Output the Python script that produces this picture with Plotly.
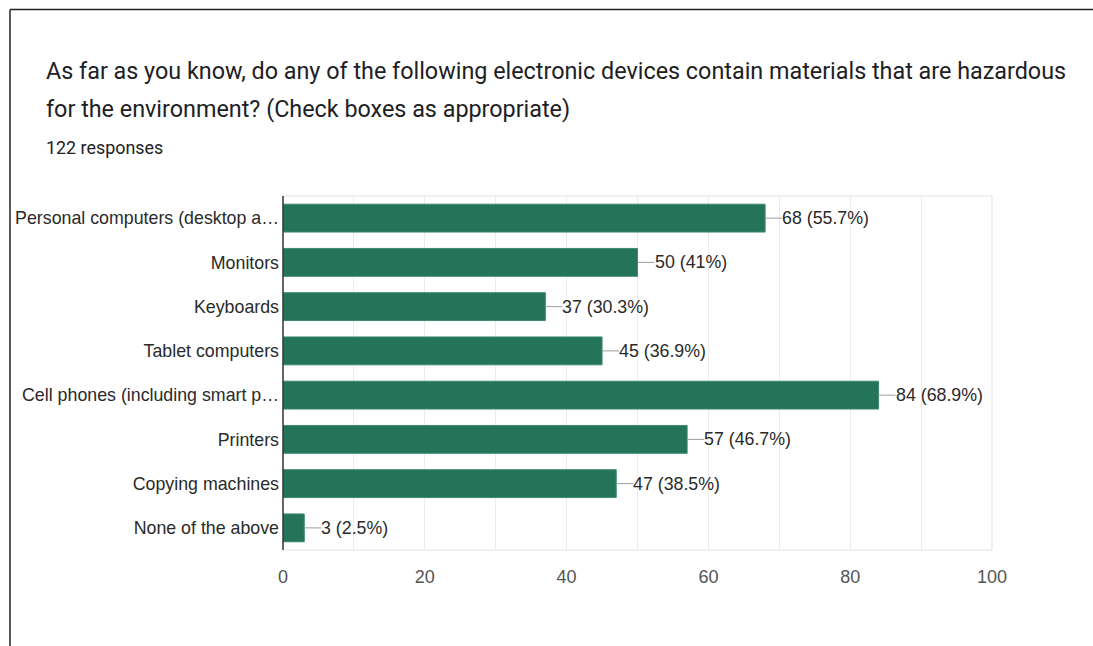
import plotly.graph_objects as go

categories = [
    "Personal computers (desktop a…",
    "Monitors",
    "Keyboards",
    "Tablet computers",
    "Cell phones (including smart p…",
    "Printers",
    "Copying machines",
    "None of the above",
]
counts = [68, 50, 37, 45, 84, 57, 47, 3]
percents = ["55.7%", "41%", "30.3%", "36.9%", "68.9%", "46.7%", "38.5%", "2.5%"]
total_responses = 122

title_lines = [
    "As far as you know, do any of the following electronic devices contain materials that are hazardous",
    "for the environment? (Check boxes as appropriate)",
]

W, H = 1093, 646
ML, MR, MT, MB = 283, 101, 196, 96
PW, PH = W - ML - MR, H - MT - MB


def px_x(px):
    return (px - ML) / PW


def px_y(py):
    return (H - MB - py) / PH


BAR = "#237459"
LABEL_FONT = dict(family="Liberation Sans, Arial, sans-serif", size=17.8, color="#2a2a2a")

fig = go.Figure(
    go.Bar(
        x=counts,
        y=categories,
        orientation="h",
        marker=dict(color=BAR, line=dict(color="#3d8a70", width=1)),
        hoverinfo="skip",
    )
)

annotations = []
for cat, n, p in zip(categories, counts, percents):
    annotations.append(
        dict(
            x=n, y=cat, xref="x", yref="y",
            text=f"{n} ({p})",
            showarrow=True, arrowhead=0, arrowwidth=1, arrowcolor="#9e9e9e",
            ax=17, ay=0, xanchor="left", yanchor="middle",
            borderpad=0, borderwidth=0,
            font=LABEL_FONT,
        )
    )

title_font = dict(family="Roboto, sans-serif", size=23.35, color="#202124")
annotations.append(dict(x=px_x(44), y=px_y(71), xref="paper", yref="paper",
                        text=title_lines[0], showarrow=False, xanchor="left",
                        yanchor="middle", font=title_font))
annotations.append(dict(x=px_x(44), y=px_y(109), xref="paper", yref="paper",
                        text=title_lines[1], showarrow=False, xanchor="left",
                        yanchor="middle", font=title_font))
annotations.append(dict(x=px_x(44), y=px_y(148), xref="paper", yref="paper",
                        text=f"{total_responses} responses", showarrow=False,
                        xanchor="left", yanchor="middle",
                        font=dict(family="Roboto, sans-serif", size=17.9, color="#202124")))

shapes = [
    # card outline: top and left edges
    dict(type="line", xref="paper", yref="paper", x0=px_x(10), x1=px_x(W),
         y0=px_y(9.5), y1=px_y(9.5), line=dict(color="#222222", width=1.5)),
    dict(type="line", xref="paper", yref="paper", x0=px_x(10), x1=px_x(10),
         y0=px_y(9.5), y1=px_y(H), line=dict(color="#222222", width=1.5)),
    # plot frame (top, right, bottom)
    dict(type="line", xref="paper", yref="paper", x0=0, x1=1, y0=1, y1=1,
         line=dict(color="#ebebeb", width=1.5)),
    dict(type="line", xref="paper", yref="paper", x0=1, x1=1, y0=0, y1=1,
         line=dict(color="#ebebeb", width=1.5)),
    dict(type="line", xref="paper", yref="paper", x0=0, x1=1, y0=0, y1=0,
         line=dict(color="#ebebeb", width=1.5)),
    # baseline at zero
    dict(type="line", xref="paper", yref="paper", x0=0, x1=0, y0=0, y1=1,
         line=dict(color="#333333", width=1.5)),
]

fig.update_layout(
    width=W, height=H,
    margin=dict(l=ML, r=MR, t=MT, b=MB, pad=0),
    paper_bgcolor="white", plot_bgcolor="white",
    showlegend=False,
    bargap=0.37,
    annotations=annotations,
    shapes=shapes,
    xaxis=dict(
        range=[0, 100], tickvals=[0, 20, 40, 60, 80, 100],
        showgrid=True, gridcolor="#ebebeb", gridwidth=1,
        minor=dict(dtick=10, showgrid=True, gridcolor="#ebebeb", gridwidth=1),
        zeroline=False, showline=False, ticks="", ticklen=0,
        ticklabelstandoff=14,
        tickfont=dict(family="Liberation Sans, Arial, sans-serif", size=18, color="#555555"),
        fixedrange=True,
    ),
    yaxis=dict(
        categoryorder="array", categoryarray=categories, autorange="reversed",
        showgrid=False, zeroline=False, showline=False, ticks="",
        ticklabelstandoff=3,
        tickfont=LABEL_FONT,
        fixedrange=True,
    ),
)

fig.write_html("out.html")
